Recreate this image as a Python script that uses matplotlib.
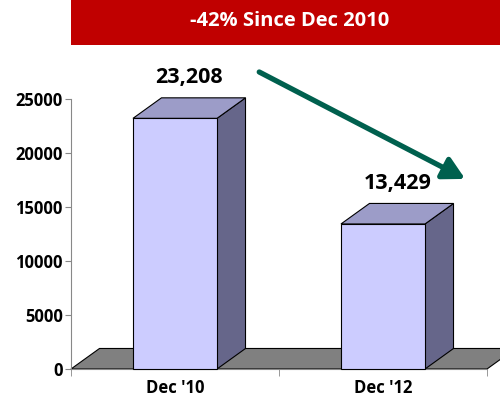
import matplotlib.pyplot as plt
from matplotlib.patches import Polygon, Rectangle

# data
categories = ["Dec '10", "Dec '12"]
values = [23208, 13429]
value_labels = ["23,208", "13,429"]
banner_text = "-42% Since Dec 2010"
yticks = [0, 5000, 10000, 15000, 20000, 25000]

plt.rcParams['font.family'] = ['Open Sans', 'DejaVu Sans']

fig = plt.figure(figsize=(5, 4), dpi=100)
ax = fig.add_axes([0.142, 0.0775, 0.832, 0.675])
ax.set_xlim(-0.5, 1.5)
ax.set_ylim(0, 25000)

# 3d look: depth offset in data units
dx, dy = 0.137, 1900
width = 0.404
front_c, top_c, side_c = '#CCCCFF', '#9C9CC8', '#66668A'

# floor
x0, x1 = ax.get_xlim()
floor = Polygon([(x0, 0), (x1, 0), (x1 + dx, dy), (x0 + dx, dy)],
                closed=True, facecolor='#808080', edgecolor='black',
                lw=0.8, clip_on=False, zorder=2)
ax.add_patch(floor)

for i, v in enumerate(values):
    l, r = i - width / 2, i + width / 2
    side = Polygon([(r, 0), (r + dx, dy), (r + dx, v + dy), (r, v)],
                   facecolor=side_c, edgecolor='black', lw=0.8,
                   clip_on=False, zorder=3)
    top = Polygon([(l, v), (r, v), (r + dx, v + dy), (l + dx, v + dy)],
                  facecolor=top_c, edgecolor='black', lw=0.8,
                  clip_on=False, zorder=3)
    front = Rectangle((l, 0), width, v, facecolor=front_c,
                      edgecolor='black', lw=0.8, clip_on=False, zorder=4)
    ax.add_patch(side)
    ax.add_patch(top)
    ax.add_patch(front)
    ax.annotate(value_labels[i], (i + dx / 2, v + dy), xytext=(0, 7),
                textcoords='offset points', ha='center', va='bottom',
                fontsize=15.5, fontweight='bold', annotation_clip=False,
                zorder=6)

# trend arrow
ax.annotate('', xy=(1.395, 17600), xytext=(0.405, 27500),
            xycoords='data', annotation_clip=False,
            arrowprops=dict(arrowstyle='-|>,head_length=1.3,head_width=0.7',
                            color='#00604E', lw=3.8, shrinkA=0, shrinkB=0),
            zorder=7)

# axes styling
for s in ['top', 'right']:
    ax.spines[s].set_visible(False)
ax.spines['left'].set_color('#888888')
ax.spines['bottom'].set_color('#888888')
ax.set_yticks(yticks)
ax.set_yticklabels([str(t) for t in yticks], fontsize=12, fontweight='bold')
ax.set_xticks(range(len(categories)))
ax.set_xticklabels(categories, fontsize=12, fontweight='bold')
ax.set_xticks([-0.5, 0.5, 1.5], minor=True)
ax.tick_params(axis='y', length=4, color='#888888', pad=2)
ax.tick_params(axis='x', which='major', length=0, pad=7)
ax.tick_params(axis='x', which='minor', length=5, color='#888888')

# red banner
fig.patches.append(Rectangle((0.142, 0.8875), 0.858, 0.1125,
                             transform=fig.transFigure, facecolor='#C00000',
                             edgecolor='none', zorder=0))
fig.text(0.58, 0.947, banner_text, color='white', fontsize=14.5,
         fontweight='bold', ha='center', va='center')

fig.savefig('out.png', dpi=100)
